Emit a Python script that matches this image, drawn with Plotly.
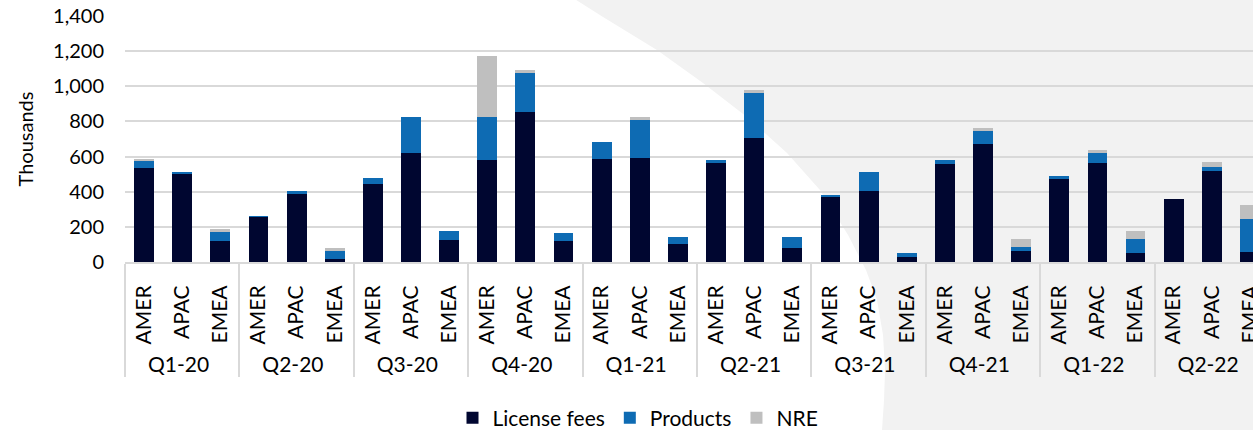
import plotly.graph_objects as go

quarters = ["Q1-20", "Q2-20", "Q3-20", "Q4-20", "Q1-21", "Q2-21", "Q3-21", "Q4-21", "Q1-22", "Q2-22"]
regions = ["AMER", "APAC", "EMEA"]

license_fees = [537, 503, 118,  257, 385, 19,  446, 621, 124,  581, 851, 120,
                589, 593, 101,  566, 703, 78,  370, 404, 27,   560, 674, 63,
                474, 562, 51,   360, 520, 55]
products = [38, 5, 53,  3, 19, 44,  34, 202, 51,  242, 226, 44,
            95, 218, 40,  13, 261, 67,  11, 110, 23,  23, 75, 23,
            16, 57, 79,  0, 23, 187]
nre = [8, 0, 16,  0, 0, 15,  0, 0, 0,  347, 13, 0,
       0, 16, 0,  0, 17, 0,  0, 0, 0,  0, 11, 45,
       0, 18, 49,  0, 27, 80]

y_ticks = [0, 200, 400, 600, 800, 1000, 1200, 1400]

x_outer = [q for q in quarters for _ in regions]
x_inner = [r for _ in quarters for r in regions]

colors = {"License fees": "#000630", "Products": "#0E6BB3", "NRE": "#BFBFBF"}

fig = go.Figure()
for name, vals in [("License fees", license_fees), ("Products", products), ("NRE", nre)]:
    fig.add_trace(go.Bar(x=[x_outer, x_inner], y=vals, name=name,
                         marker=dict(color=colors[name], line=dict(width=0))))

# background decoration (pixels -> paper)
L, W, T, H = 125, 1128, 16, 246
def px(x):
    return (x - L) / W
def py(y):
    return 1 - (y - T) / H

bpts = [(573, 0), (603, 17), (657, 50), (703, 83), (747, 117), (787, 153), (820, 190),
        (848, 235), (866, 270), (877, 300), (883, 335), (885, 370), (884, 400), (882, 430)]
path = "M %.4f,%.4f " % (px(bpts[0][0]), py(bpts[0][1] - 2))
for x, y in bpts[1:]:
    path += "L %.4f,%.4f " % (px(x), py(y))
path += "L %.4f,%.4f L %.4f,%.4f Z" % (px(1300), py(440), px(1300), py(-5))

fig.add_shape(type="path", path=path, xref="paper", yref="paper",
              fillcolor="#F2F2F2", line=dict(width=0), layer="below")

font_family = "Lato, 'Open Sans', sans-serif"
fig.update_layout(
    width=1253, height=430,
    margin=dict(l=L, r=0, t=T, b=430 - T - H, autoexpand=False),
    paper_bgcolor="white",
    plot_bgcolor="rgba(0,0,0,0)",
    barmode="stack",
    bargap=0.48,
    font=dict(family=font_family, size=20, color="#000000"),
    legend=dict(orientation="h", x=px(638), xanchor="center", y=py(418), yanchor="middle",
                font=dict(size=21), traceorder="normal", itemwidth=30, bgcolor="rgba(0,0,0,0)"),
    xaxis=dict(type="multicategory", range=[-0.5, 29.08], tickangle=-90, automargin=False,
               showline=True, linecolor="#D9D9D9", linewidth=2,
               showgrid=False, ticks="", showdividers=True, dividercolor="#D9D9D9", dividerwidth=2,
               tickfont=dict(size=21, family=font_family), ticklabelstandoff=13),
    yaxis=dict(range=[0, 1400], tickvals=y_ticks, ticktext=[f"{v:,}" for v in y_ticks],
               automargin=False,
               showgrid=True, gridcolor="#D9D9D9", gridwidth=2, zeroline=False,
               title=dict(text="Thousands", font=dict(size=20), standoff=14),
               tickfont=dict(size=20), ticks="", ticklabelstandoff=20),
)

fig.write_html("out.html",
               config={"displayModeBar": False},
               post_script="document.body.style.margin='0';document.body.style.overflow='hidden';")
